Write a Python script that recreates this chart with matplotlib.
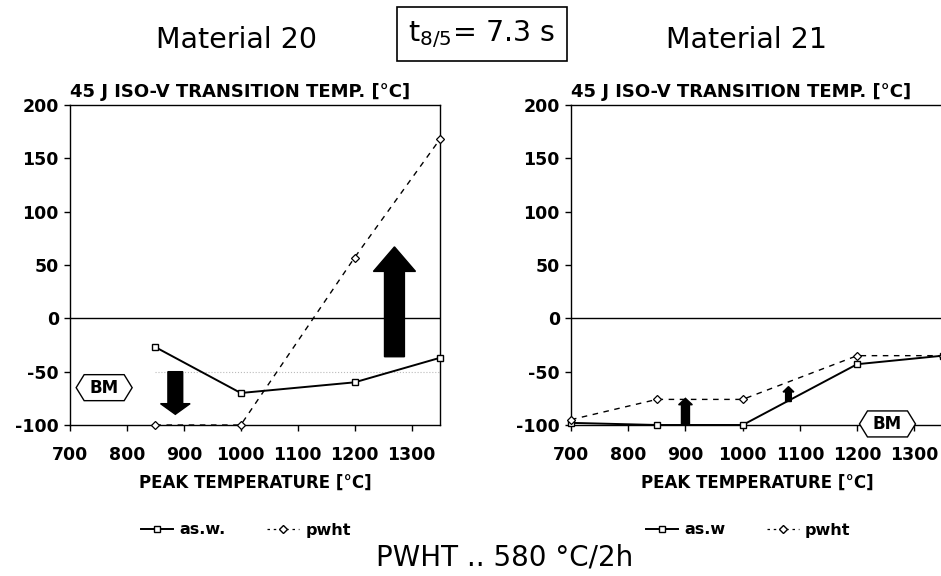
import matplotlib.pyplot as plt
import matplotlib.patches as mpatches
import matplotlib.transforms as mtransforms
from matplotlib.lines import Line2D

plt.rcParams['font.family'] = ['DejaVu Sans']
plt.rcParams['axes.unicode_minus'] = False

# Material 20
peak_20 = [850, 1000, 1200, 1350]
asw_20 = [-27, -70, -60, -37]
pwht_20 = [-100, -100, 57, 168]

# Material 21
peak_21 = [700, 850, 1000, 1200, 1350]
asw_21 = [-98, -100, -100, -43, -35]
pwht_21 = [-95, -76, -76, -35, -35]

# arrows: (x, start, end, shaft width, head width, head length)
arrows_20 = [(885, -50, -90, 26, 52, 10), (1270, -36, 67, 35, 74, 23)]
arrows_21 = [(900, -100, -75, 14, 24, 6), (1080, -78, -64, 10, 19, 5)]

# BM labels (x, y)
bm_20 = (760, -65)
bm_21 = (1253, -99)

xticks = [700, 800, 900, 1000, 1100, 1200, 1300]
yticks = [-100, -50, 0, 50, 100, 150, 200]

fig = plt.figure(figsize=(9.41, 5.76), dpi=100)
ax1 = fig.add_axes([70/941, 1-425/576, 370/941, 320/576])
ax2 = fig.add_axes([571/941, 1-425/576, 372/941, 320/576])


def bm_box(ax, x, y):
    w, h, p = 0.28, 0.13, 0.08  # inches
    verts = [(-w, 0), (-w + p, h), (w - p, h), (w, 0), (w - p, -h), (-w + p, -h)]
    tr = fig.dpi_scale_trans + mtransforms.ScaledTranslation(x, y, ax.transData)
    poly = mpatches.Polygon(verts, closed=True, facecolor='white', edgecolor='black',
                            linewidth=1.0, transform=tr, clip_on=False, zorder=5)
    ax.add_patch(poly)
    ax.text(x, y, 'BM', ha='center', va='center', fontsize=12, fontweight='bold',
            zorder=6, clip_on=False)


def style(ax, right_spine):
    ax.set_xlim(700, 1350)
    ax.set_ylim(-100, 200)
    ax.set_xticks(xticks)
    ax.set_yticks(yticks)
    ax.tick_params(direction='out', length=4, width=1, labelsize=12.5)
    ax.tick_params(axis='x', pad=11)
    ax.tick_params(axis='y', pad=4)
    for lab in ax.get_xticklabels() + ax.get_yticklabels():
        lab.set_fontweight('bold')
    ax.spines['right'].set_visible(right_spine)
    for s in ax.spines.values():
        s.set_linewidth(1.0)
    ax.axhline(0, color='black', linewidth=1.0)
    ax.text(0.0, 1.025, '45 J ISO-V TRANSITION TEMP. [°C]', transform=ax.transAxes,
            fontsize=13, fontweight='bold', ha='left', va='baseline')
    ax.set_xlabel('PEAK TEMPERATURE [°C]', fontsize=12, fontweight='bold', labelpad=7)


for ax, px, asw, pw, arrows, bm, rs in [
        (ax1, peak_20, asw_20, pwht_20, arrows_20, bm_20, True),
        (ax2, peak_21, asw_21, pwht_21, arrows_21, bm_21, False)]:
    style(ax, rs)
    ax.plot(px, asw, color='black', linewidth=1.4, marker='s', markersize=5,
            markerfacecolor='white', markeredgewidth=1.0, clip_on=False, zorder=4)
    ax.plot(px, pw, color='black', linewidth=1.0, linestyle=(0, (4, 4)), marker='D',
            markersize=4, markerfacecolor='white', markeredgewidth=0.9, clip_on=False, zorder=4)
    for x, y0, y1, w, hw, hl in arrows:
        ax.add_patch(mpatches.FancyArrow(x, y0, 0, y1 - y0, width=w, head_width=hw,
                                         head_length=hl, length_includes_head=True,
                                         color='black', zorder=3))
    bm_box(ax, *bm)

# faint base metal level
ax1.plot([850, 1350], [-50, -50], color='#bbbbbb', linestyle=':', linewidth=0.8, zorder=1)

# legends
handles = [Line2D([], [], color='black', linewidth=1.4, marker='s', markersize=5,
                  markerfacecolor='white'),
           Line2D([], [], color='black', linewidth=0.9, linestyle=(0, (2, 3)), marker='D',
                  markersize=4, markerfacecolor='white')]
leg_kw = dict(ncol=2, frameon=False, handlelength=2.0, handletextpad=0.4, columnspacing=2.6,
              prop={'size': 11.5, 'weight': 'bold'})
fig.legend(handles, ['as.w.', 'pwht'], loc='center', bbox_to_anchor=(246/941, 1-530/576), **leg_kw)
fig.legend(handles, ['as.w', 'pwht'], loc='center', bbox_to_anchor=(748/941, 1-530/576), **leg_kw)

fig.text(236/941, 1-40/576, 'Material 20', ha='center', va='center', fontsize=20.5)
fig.text(746/941, 1-40/576, 'Material 21', ha='center', va='center', fontsize=20.5)
fig.text(482/941, 1-34/576, 't$_{\\mathregular{8/5}}$= 7.3 s', ha='center', va='center', fontsize=20.5,
         bbox=dict(boxstyle='square,pad=0.4', facecolor='white', edgecolor='black', linewidth=1.2))
fig.text(505/941, 1-557/576, 'PWHT .. 580 °C/2h', ha='center', va='center', fontsize=20)

fig.savefig('out.png', dpi=100)
